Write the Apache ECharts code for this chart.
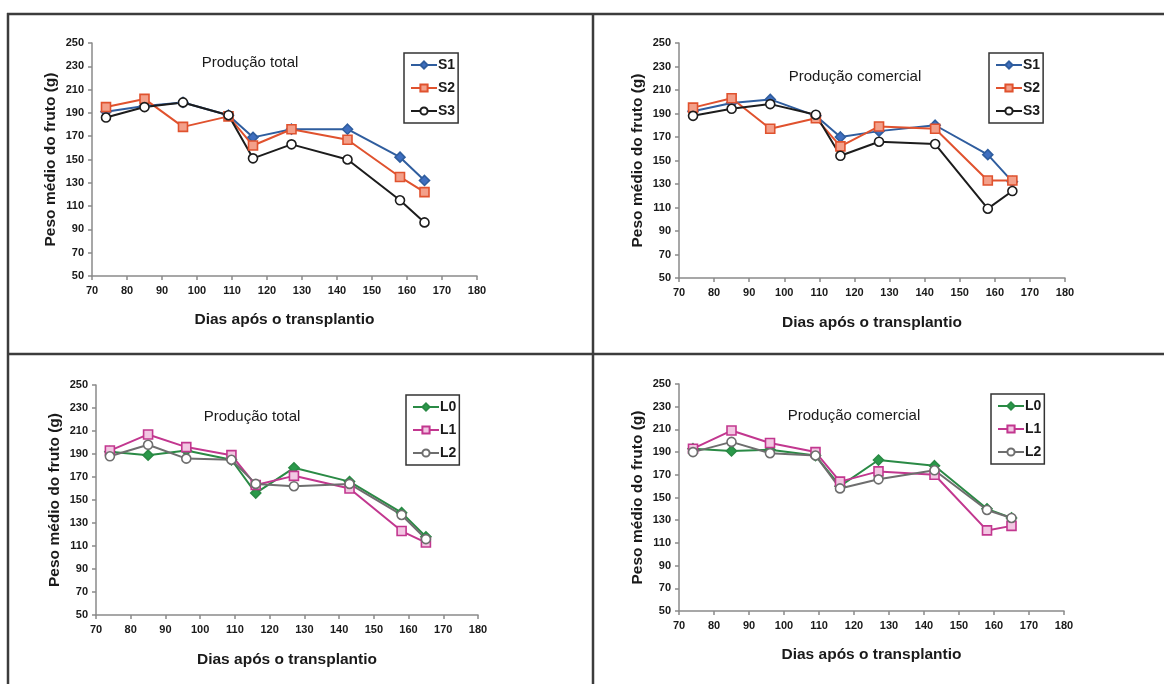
<!DOCTYPE html>
<html>
<head>
<meta charset="utf-8">
<script src="https://cdn.jsdelivr.net/npm/echarts@6/dist/echarts.min.js"></script>
<style>
  html, body { margin: 0; padding: 0; background: #fff; }
  #chart { width: 1164px; height: 684px; }
</style>
</head>
<body>
<div id="chart"></div>
<script>
// Days after transplanting at which fruit were weighed
const days = [74, 85, 96, 109, 116, 127, 143, 158, 165];

// Mean fruit weight (g) – total production, by S treatment
const totalS1 = [191, 196, 199, 188, 169, 176, 176, 152, 132];
const totalS2 = [195, 202, 178, 187, 162, 176, 167, 135, 122];
const totalS3 = [186, 195, 199, 188, 151, 163, 150, 115, 96];

// Mean fruit weight (g) – marketable production, by S treatment
const comS1 = [192, 199, 202, 188, 170, 175, 180, 155, 132];
const comS2 = [195, 203, 177, 186, 162, 179, 177, 133, 133];
const comS3 = [188, 194, 198, 189, 154, 166, 164, 109, 124];

// Mean fruit weight (g) – total production, by L treatment
const totalL0 = [192, 189, 193, 185, 156, 178, 166, 139, 118];
const totalL1 = [193, 207, 196, 189, 163, 171, 160, 123, 113];
const totalL2 = [188, 198, 186, 185, 164, 162, 164, 137, 116];

// Mean fruit weight (g) – marketable production, by L treatment
const comL0 = [193, 191, 192, 187, 160, 183, 178, 140, 132];
const comL1 = [193, 209, 198, 190, 164, 173, 170, 121, 125];
const comL2 = [190, 199, 189, 187, 158, 166, 174, 139, 132];

const panelTitles = ['Produção total', 'Produção comercial', 'Produção total', 'Produção comercial'];
const xAxisName = 'Dias após o transplantio';
const yAxisName = 'Peso médio do fruto (g)';

const FONT = '"Liberation Sans", Arial, sans-serif';

const styles = {
  S1: { color: '#2f5d9e', symbol: 'diamond', fill: '#3f6fc0' },
  S2: { color: '#e0522e', symbol: 'rect', fill: '#f3a08a' },
  S3: { color: '#1c1c1c', symbol: 'circle', fill: '#ffffff' },
  L0: { color: '#2a8a45', symbol: 'diamond', fill: '#2a9a4a' },
  L1: { color: '#c2378f', symbol: 'rect', fill: '#f2c6e2' },
  L2: { color: '#6e6e6e', symbol: 'circle', fill: '#ffffff' }
};

const panels = [
  { grid: { left: 92, top: 43, width: 385, height: 233 }, title: [245, 50], legend: [404, 53], xGap: 36,
    series: [['S1', totalS1], ['S2', totalS2], ['S3', totalS3]] },
  { grid: { left: 679, top: 43, width: 386, height: 235 }, title: [850, 64], legend: [989, 53], xGap: 37,
    series: [['S1', comS1], ['S2', comS2], ['S3', comS3]] },
  { grid: { left: 96, top: 385, width: 382, height: 230 }, title: [247, 404], legend: [406, 395], xGap: 37,
    series: [['L0', totalL0], ['L1', totalL1], ['L2', totalL2]] },
  { grid: { left: 679, top: 384, width: 385, height: 227 }, title: [849, 403], legend: [991, 394], xGap: 36,
    series: [['L0', comL0], ['L1', comL1], ['L2', comL2]] }
];

const axisLineStyle = { color: '#8a8a8a', width: 1.5 };
const tickLabel = { fontFamily: FONT, fontWeight: 'bold', fontSize: 11, color: '#1a1a1a' };
const nameStyle = { fontFamily: FONT, fontWeight: 'bold', fontSize: 15.5, color: '#1a1a1a' };

const option = {
  animation: false,
  backgroundColor: '#ffffff',
  title: panels.map((p, i) => ({
    text: panelTitles[i],
    left: p.title[0], top: p.title[1], textAlign: 'center',
    textStyle: { fontFamily: FONT, fontWeight: 'normal', fontSize: 15, color: '#1a1a1a' }
  })),
  grid: panels.map(p => p.grid),
  legend: panels.map((p, i) => ({
    show: true,
    orient: 'vertical',
    left: p.legend[0], top: p.legend[1],
    data: p.series.map(s => s[0] + '#' + i).map(n => ({ name: n })),
    formatter: n => n.split('#')[0],
    itemWidth: 26, itemHeight: 9, itemGap: 9,
    padding: [5, 3, 5, 6],
    borderColor: '#333', borderWidth: 1.5,
    textStyle: { fontFamily: FONT, fontWeight: 'bold', fontSize: 14, color: '#1a1a1a', padding: [0, 0, 0, -4] }
  })),
  xAxis: panels.map((p, i) => ({
    type: 'value', gridIndex: i, min: 70, max: 180, interval: 10,
    name: xAxisName, nameLocation: 'middle', nameGap: p.xGap,
    nameTextStyle: nameStyle,
    axisLine: { lineStyle: axisLineStyle },
    axisTick: { show: true, length: 4, lineStyle: axisLineStyle },
    axisLabel: Object.assign({ margin: 9 }, tickLabel),
    splitLine: { show: false }
  })),
  yAxis: panels.map((p, i) => ({
    type: 'value', gridIndex: i, min: 50, max: 250, interval: 20,
    name: yAxisName, nameLocation: 'middle', nameGap: 33,
    nameTextStyle: nameStyle,
    axisLine: { show: true, lineStyle: axisLineStyle },
    axisTick: { show: true, length: 4, lineStyle: axisLineStyle },
    axisLabel: Object.assign({ margin: 8 }, tickLabel),
    splitLine: { show: false }
  })),
  series: panels.flatMap((p, i) => p.series.map(([key, vals]) => {
    const st = styles[key];
    return {
      name: key + '#' + i,
      type: 'line',
      xAxisIndex: i, yAxisIndex: i,
      data: days.map((d, k) => [d, vals[k]]),
      symbol: st.symbol,
      symbolSize: st.symbol === 'diamond' ? 10 : 9,
      showAllSymbol: true,
      lineStyle: { color: st.color, width: 2 },
      itemStyle: { color: st.fill, borderColor: st.color, borderWidth: 1.6 }
    };
  })),
  graphic: [
    { type: 'line', shape: { x1: 7, y1: 14, x2: 1164, y2: 14 }, style: { stroke: '#3c3c3c', lineWidth: 2.5 } },
    { type: 'line', shape: { x1: 8, y1: 13, x2: 8, y2: 684 }, style: { stroke: '#3c3c3c', lineWidth: 2.5 } },
    { type: 'line', shape: { x1: 7, y1: 354, x2: 1164, y2: 354 }, style: { stroke: '#3c3c3c', lineWidth: 2.5 } },
    { type: 'line', shape: { x1: 593, y1: 13, x2: 593, y2: 684 }, style: { stroke: '#3c3c3c', lineWidth: 2.5 } }
  ]
};

echarts.init(document.getElementById('chart'), null, { renderer: 'canvas' }).setOption(option);
</script>
</body>
</html>
